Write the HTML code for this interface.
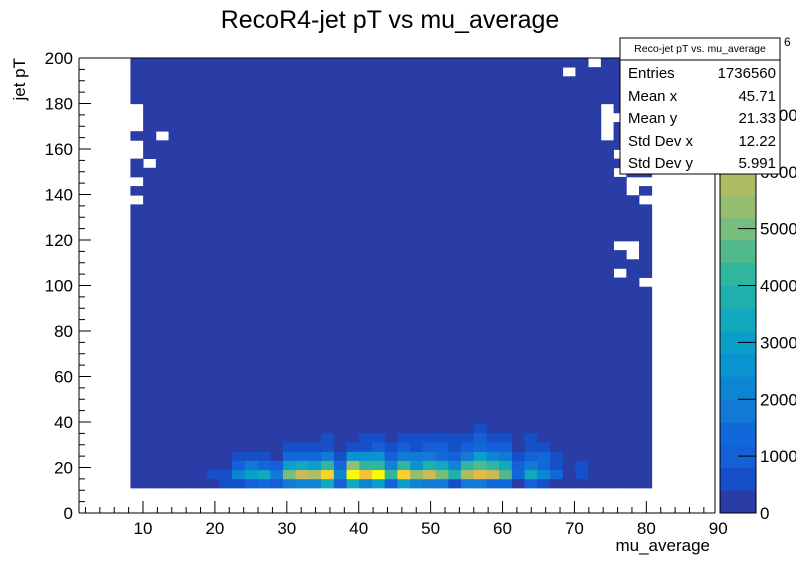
<!DOCTYPE html>
<html><head><meta charset="utf-8">
<style>
html,body{margin:0;padding:0;background:#fff;overflow:hidden;width:796px;height:572px}
svg{display:block;font-family:"Liberation Sans",Arial,sans-serif}
</style></head>
<body>
<svg id="chart" width="796" height="572" viewBox="0 0 796 572" xmlns="http://www.w3.org/2000/svg">
<text x="390" y="28" font-size="25" text-anchor="middle">RecoR4-jet pT vs mu_average</text>
<text transform="translate(25,58) rotate(-90)" font-size="17" text-anchor="end">jet pT</text>
<text x="710" y="551" font-size="17" text-anchor="end">mu_average</text>
<g id="cells"></g>
<g id="axes"></g>
<g id="palette"></g>
<g id="stats">
<rect x="620" y="38" width="160" height="136" fill="#fff" stroke="#000" stroke-width="1"/>
<line x1="620" y1="60" x2="780" y2="60" stroke="#000"/>
<text x="700" y="52" font-size="10.5" text-anchor="middle">Reco-jet pT vs. mu_average</text>
<text x="628" y="78" font-size="15">Entries</text><text x="776" y="78" font-size="15" text-anchor="end">1736560</text>
<text x="628" y="101" font-size="15">Mean x</text><text x="776" y="101" font-size="15" text-anchor="end">45.71</text>
<text x="628" y="123" font-size="15">Mean y</text><text x="776" y="123" font-size="15" text-anchor="end">21.33</text>
<text x="628" y="146" font-size="15">Std Dev x</text><text x="776" y="146" font-size="15" text-anchor="end">12.22</text>
<text x="628" y="168" font-size="15">Std Dev y</text><text x="776" y="168" font-size="15" text-anchor="end">5.991</text>
</g>
<text x="784" y="46" font-size="12">6</text>
</svg>
<script>
// ---- data ----
const xTicks = [10,20,30,40,50,60,70,80,90];
const yTicks = [0,20,40,60,80,100,120,140,160,180,200];
const zTicks = [0,1000,2000,3000,4000,5000,6000,7000];
const nXBins = 41;
const xBinMin = 8.25, xBinMax = 80.75;
const nYBins = 47;
const yBinMin = 11, yBinMax = 200;
const zMax = 8000;
const nLevels = 20;
const bgCount = 100;
// low rows (pT bins 0..6), counts per x bin
const row0 = [100,100,100,100,100,100,100,600,600,1000,1400,1000,1800,2200,2200,3400,1000,3400,2200,3000,1000,3000,2200,1800,1800,600,1800,1800,1400,1400,100,1000,600,100,100,100,100,100,100,100,100];
const row1 = [100,100,100,100,100,100,600,600,2200,3000,3400,1800,5000,6200,5800,7400,2200,7800,7000,7800,4200,7400,5400,6200,5000,3800,5800,6600,6200,4600,1400,3400,2200,1400,100,600,100,100,100,100,100];
const row2 = [100,100,100,100,100,100,100,100,1000,1800,1400,1000,3000,3400,3000,4200,1400,5400,4200,4200,2200,4200,2600,3800,3400,2200,4200,4600,4200,3400,1000,1800,1400,600,100,600,100,100,100,100,100];
const row3 = [100,100,100,100,100,100,100,100,600,600,600,100,1400,1400,1400,1800,600,2600,2600,2600,1000,1800,1800,1800,1400,1000,1800,3000,2200,1800,600,1000,1400,600,100,100,100,100,100,100,100];
const row4 = [100,100,100,100,100,100,100,100,100,100,100,100,600,600,600,600,100,600,600,1000,600,1000,600,1000,1000,600,1000,1400,1000,1000,100,600,600,100,100,100,100,100,100,100,100];
const row5 = [100,100,100,100,100,100,100,100,100,100,100,100,100,100,100,600,100,100,600,600,100,600,600,600,600,600,600,1000,600,600,100,600,100,100,100,100,100,100,100,100,100];
const row6 = [100,100,100,100,100,100,100,100,100,100,100,100,100,100,100,100,100,100,100,100,100,100,100,100,100,100,100,600,100,100,100,100,100,100,100,100,100,100,100,100,100];
const lowRows = [row0,row1,row2,row3,row4,row5,row6];
// empty bins [xBin, yBin]
const emptyBins = [[0,39],[0,40],[0,41],[2,38],[0,36],[0,37],[1,35],[0,33],[0,31],
 [34,45],[36,46],[37,38],[37,39],[37,40],[37,41],[38,40],[38,36],[38,34],[39,32],[39,33],[40,33],[40,31],
 [38,26],[39,26],[39,25],[38,23],[40,22]];
const palette = ['#2a3ca6','#1650c8','#1560d8','#1169d9','#127ad5','#0e85d0','#0993cf','#0a9fc9','#12a8bd','#1eb0ad','#30b59f','#52b98f','#78bd7d','#96bd70','#b0bc64','#cbba5a','#e2bb48','#f6c23a','#fbd12a','#f9fb0e'];
// ---- layout ----
const L=79,R=715,T=58,B=513, xMin=1.1, xMax=89.55, yMin=0, yMax=200;
const X=v=>L+(v-xMin)/(xMax-xMin)*(R-L);
const Y=v=>B-(v-yMin)/(yMax-yMin)*(B-T);
const NS='http://www.w3.org/2000/svg';
function mk(tag,attrs,parent){const e=document.createElementNS(NS,tag);for(const k in attrs)e.setAttribute(k,attrs[k]);parent.appendChild(e);return e;}
const level=c=>Math.max(0,Math.min(nLevels-1,Math.floor(c/zMax*nLevels)));
const cells=document.getElementById('cells');
const bw=(xBinMax-xBinMin)/nXBins, bh=(yBinMax-yBinMin)/nYBins;
const empty=new Set(emptyBins.map(p=>p[0]+','+p[1]));
for(let j=0;j<nYBins;j++){for(let i=0;i<nXBins;i++){
  if(empty.has(i+','+j))continue;
  const c = j<lowRows.length ? lowRows[j][i] : bgCount;
  const x0=X(xBinMin+i*bw), x1=X(xBinMin+(i+1)*bw), y0=Y(yBinMin+(j+1)*bh), y1=Y(yBinMin+j*bh);
  const r=mk('rect',{x:x0,y:y0,width:x1-x0+0.4,height:y1-y0+0.4,fill:palette[level(c)]},cells);
  
  
}}
const ax=document.getElementById('axes');
mk('line',{x1:L,y1:B,x2:R,y2:B,stroke:'#000'},ax);
mk('line',{x1:L,y1:T,x2:L,y2:B,stroke:'#000'},ax);
mk('line',{x1:L,y1:T,x2:R,y2:T,stroke:'#000'},ax);
mk('line',{x1:R,y1:T,x2:R,y2:B,stroke:'#000'},ax);
for(let v=2;v<=xMax;v+=2){const big=v%10===0;mk('line',{x1:X(v),y1:B,x2:X(v),y2:B-(big?12:6),stroke:'#000'},ax);}
xTicks.forEach(v=>{const t=mk('text',{x:X(v),y:B+21,'font-size':17,'text-anchor':'middle'},ax);t.textContent=v;
 
 });
for(let v=0;v<=yMax;v+=5){const big=v%20===0;mk('line',{x1:L,y1:Y(v),x2:L+(big?12:6),y2:Y(v),stroke:'#000'},ax);}
yTicks.forEach(v=>{const t=mk('text',{x:L-6,y:Y(v)+6,'font-size':17,'text-anchor':'end'},ax);t.textContent=v;
 
 });
const pal=document.getElementById('palette');
const PL=720,PR=756;
const Z=v=>B-v/zMax*(B-T);
for(let k=0;k<nLevels;k++){mk('rect',{x:PL,y:Z((k+1)*zMax/nLevels),width:PR-PL,height:(B-T)/nLevels+0.4,fill:palette[k]},pal);}
mk('rect',{x:PL,y:T,width:PR-PL,height:B-T,fill:'none',stroke:'#000'},pal);
zTicks.forEach(v=>{mk('line',{x1:PR-18,y1:Z(v),x2:PR,y2:Z(v),stroke:'#000'},pal);
 const t=mk('text',{x:PR+4,y:Z(v)+6,'font-size':17},pal);t.textContent=v;
 
 });
</script>
</body></html>
